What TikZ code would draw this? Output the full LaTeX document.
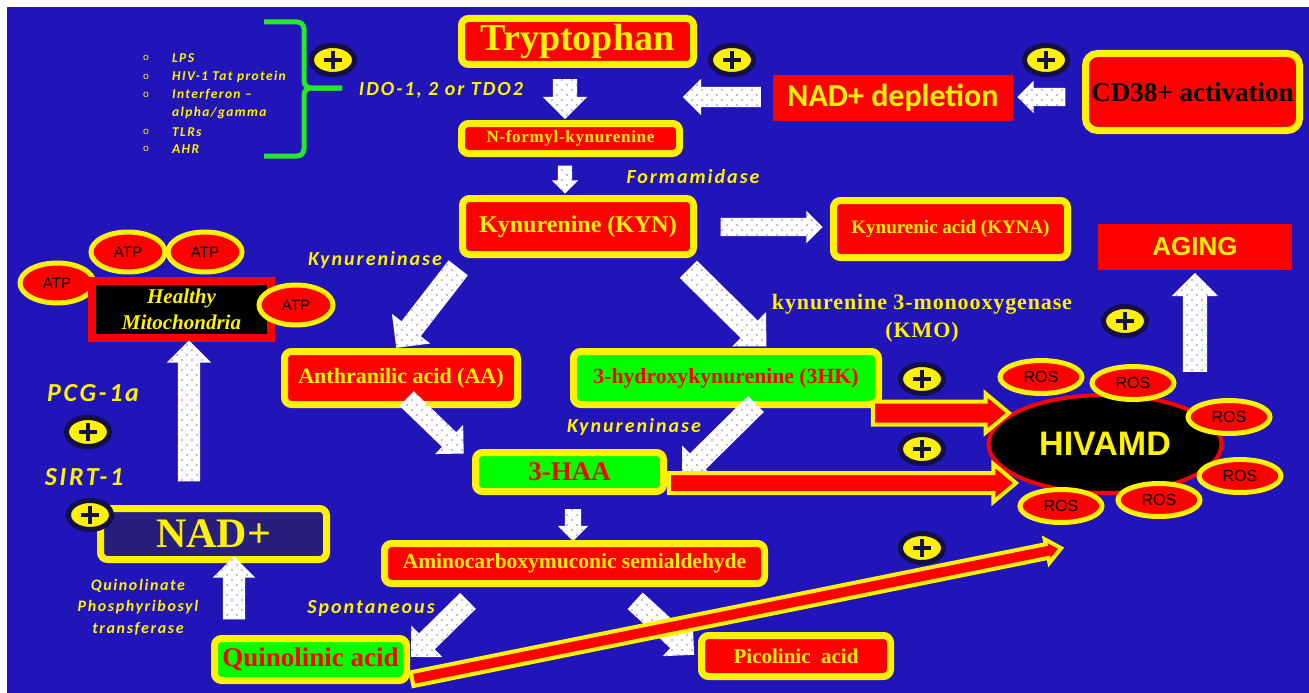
\documentclass[tikz,border=0pt]{standalone}
\usepackage{fontspec}
\setmainfont{Liberation Serif}
\newfontfamily\calib{Carlito}
\newfontfamily\calibsp[LetterSpace=10]{Carlito}
\newfontfamily\serifsp[LetterSpace=4]{Liberation Serif}
\newfontfamily\arialf{Liberation Sans}
\usetikzlibrary{shapes.geometric,shapes.arrows,calc,patterns.meta}

\definecolor{bgblue}{RGB}{33,20,185}
\definecolor{plusring}{RGB}{20,16,70}
\definecolor{nadblue}{RGB}{40,30,125}
\definecolor{brgreen}{RGB}{0,255,0}
\definecolor{bracegreen}{RGB}{40,230,40}
\definecolor{dotblue}{RGB}{110,130,215}

\tikzdeclarepattern{
  name=sparsedots,
  type=uncolored,
  bottom left={(-1pt,-1pt)},
  top right={(9pt,9pt)},
  tile size={(10pt,10pt)},
  code={
    \fill (2pt,3pt) circle (0.9pt);
    \fill (7pt,8pt) circle (0.9pt);
  }
}

\tikzset{
  ybox/.style={draw=yellow, line width=7pt, fill=red, rounded corners=7pt,
    inner sep=0pt, text=yellow, font=\bfseries},
  gbox/.style={ybox, fill=brgreen, text=red},
  flatbox/.style={fill=red, inner sep=0pt, text=yellow},
  atp/.style={ellipse, fill=red, draw=yellow, line width=5pt, inner sep=0pt,
    minimum width=74pt, minimum height=40pt, font=\arialf\fontsize{15}{17}\selectfont},
  ros/.style={ellipse, fill=red, draw=yellow, line width=5pt, inner sep=0pt,
    minimum width=82pt, minimum height=33pt, font=\arialf\fontsize{16}{18}\selectfont},
  plusnode/.style={ellipse, fill=yellow, draw=plusring, line width=5pt, inner sep=0pt,
    minimum width=43pt, minimum height=29pt,
    path picture={
      \draw[line width=3.5pt] ([xshift=-9pt]path picture bounding box.center) -- ++(18pt,0pt);
      \draw[line width=3.5pt] ([yshift=-9pt]path picture bounding box.center) -- ++(0pt,18pt);
    }},
  enzyme/.style={text=yellow, font=\calibsp\bfseries\itshape\fontsize{20}{22}\selectfont},
  listitem/.style={anchor=west, text=yellow, inner sep=0pt,
    font=\calibsp\bfseries\itshape\fontsize{13.5}{14}\selectfont},
  bullet/.style={text=yellow, inner sep=0pt, font=\calib\fontsize{11}{12}\selectfont},
  whitearrow/.style 2 args={single arrow, inner xsep=0pt, inner ysep=#1,
    single arrow head extend=#2, preaction={fill=white},
    pattern=sparsedots, pattern color=dotblue},
  redarrow/.style 2 args={single arrow, inner xsep=0pt, inner ysep=#1,
    single arrow head extend=#2, single arrow tip angle=80,
    fill=red, draw=yellow, line width=4pt},
  greenbrace/.style={draw=bracegreen, line width=5pt, rounded corners=7pt},
}

% block arrow between two named points
\newcommand{\blockarrow}[3]{%
  \path let \p1=($(#3)-(#2)$), \n1={veclen(\x1,\y1)} in
    (#2) -- (#3) node[#1, midway, sloped, allow upside down, minimum height=\n1] {};}

\begin{document}
\begin{tikzpicture}[x=1pt, y=-1pt]
  \useasboundingbox (0,0) rectangle (1309,693);
  \fill[white] (0,0) rectangle (1309,693);
  \fill[bgblue] (7,7) rectangle (1309,693);

  % main pathway
  \node[ybox, minimum width=232, minimum height=46, font=\bfseries\fontsize{38}{40}\selectfont]
    (tryp) at (577.5,41.5) {Tryptophan};
  \node[ybox, minimum width=218, minimum height=30, font=\serifsp\bfseries\fontsize{17}{19}\selectfont]
    (nfk) at (570.5,138.5) {N-formyl-kynurenine};
  \node[ybox, minimum width=231, minimum height=56, font=\bfseries\fontsize{24}{26}\selectfont]
    (kyn) at (578,226.5) {Kynurenine (KYN)};
  \node[ybox, minimum width=234, minimum height=57, font=\bfseries\fontsize{19}{21}\selectfont]
    (kyna) at (950.5,229) {Kynurenic acid (KYNA)};
  \node[ybox, rounded corners=12pt, minimum width=214, minimum height=77, text=black,
    font=\bfseries\fontsize{27}{29}\selectfont]
    (cd38) at (1192.5,92) {CD38+ activation};
  \node[flatbox, minimum width=240, minimum height=46, font=\calib\bfseries\fontsize{32}{34}\selectfont]
    (depl) at (893,98) {NAD+ depletion};
  \node[flatbox, minimum width=194, minimum height=46, font=\arialf\bfseries\fontsize{26}{28}\selectfont]
    (aging) at (1195,247) {AGING};
  \node[ybox, minimum width=233, minimum height=53, font=\bfseries\fontsize{22}{24}\selectfont]
    (aa) at (401,378) {Anthranilic acid (AA)};
  \node[gbox, minimum width=305, minimum height=53, font=\bfseries\fontsize{21.7}{24}\selectfont]
    (hk) at (726,378) {3-hydroxykynurenine (3HK)};
  \node[gbox, minimum width=188, minimum height=39, font=\bfseries\fontsize{27}{29}\selectfont]
    (haa) at (569.5,472) {3-HAA};
  \node[ybox, minimum width=380, minimum height=40, font=\bfseries\fontsize{21.5}{23}\selectfont]
    (acms) at (574.5,563.5) {Aminocarboxymuconic semialdehyde};
  \node[gbox, minimum width=192, minimum height=42, font=\bfseries\fontsize{27}{29}\selectfont]
    (quin) at (310.5,659.5) {Quinolinic acid};
  \node[ybox, minimum width=189, minimum height=41, font=\bfseries\fontsize{21}{23}\selectfont]
    (pic) at (796,656) {Picolinic\ \ acid};
  \node[ybox, fill=nadblue, minimum width=226, minimum height=51, font=\bfseries\fontsize{42}{44}\selectfont]
    (nad) at (213.5,534) {NAD+};

  % mitochondria and ATP
  \node[atp] (atp1) at (57,283) {ATP};
  \node[atp] (atp2) at (128,252) {ATP};
  \node[atp] (atp3) at (205,252) {ATP};
  \node[fill=black, draw=red, line width=8pt, minimum width=179, minimum height=57, inner sep=0pt,
    align=center, text=yellow, font=\bfseries\itshape\fontsize{21}{26}\selectfont]
    (mito) at (181.5,309.5) {Healthy\\Mitochondria};
  \node[atp] (atp4) at (296,305) {ATP};

  % HIVAMD with ROS
  \node[ellipse, fill=black, draw=red, line width=4pt, minimum width=233, minimum height=98,
    text=yellow, font=\arialf\bfseries\fontsize{34}{36}\selectfont]
    (hivamd) at (1105,444) {HIVAMD};
  \node[ros] (ros1) at (1041,377) {ROS};
  \node[ros] (ros2) at (1133,383) {ROS};
  \node[ros] (ros3) at (1229,417) {ROS};
  \node[ros] (ros4) at (1240,476) {ROS};
  \node[ros] (ros5) at (1159,500) {ROS};
  \node[ros] (ros6) at (1061,506) {ROS};

  % plus marks
  \node[plusnode] (plus1) at (333,60) {};
  \node[plusnode] (plus2) at (732,60) {};
  \node[plusnode] (plus3) at (1046,60) {};
  \node[plusnode] (plus4) at (1125,321) {};
  \node[plusnode] (plus5) at (922,379) {};
  \node[plusnode] (plus6) at (922,449) {};
  \node[plusnode] (plus7) at (922,548) {};
  \node[plusnode] (plus8) at (88,432) {};
  \node[plusnode] (plus9) at (90,515) {};

  % activators
  \foreach \y in {58,77,95,132,149} {
    \node[bullet] at (146,\y) {o};
  }
  \node[listitem] (lps) at (172,58) {LPS};
  \node[listitem] (tat) at (172,77) {HIV-1 Tat protein};
  \node[listitem] (ifn) at (172,95) {Interferon \textendash};
  \node[listitem] (ifn2) at (172,113) {alpha/gamma};
  \node[listitem] (tlr) at (172,132) {TLRs};
  \node[listitem] (ahr) at (172,149) {AHR};
  \draw[greenbrace] (264,22) -| (304,88) -- (342,88);
  \draw[greenbrace] (342,88) -- (304,88) |- (264,156);

  % enzyme labels
  \node[enzyme] (ido) at (441,90) {IDO-1, 2 or TDO2};
  \node[enzyme] (forma) at (693,177) {Formamidase};
  \node[enzyme] (kynase1) at (375,260) {Kynureninase};
  \node[enzyme] (kynase2) at (634,427) {Kynureninase};
  \node[enzyme] (spont) at (371,609) {Spontaneous};
  \node[text=yellow, align=center, font=\serifsp\bfseries\fontsize{22}{28}\selectfont]
    (kmo) at (922,318) {kynurenine 3-monooxygenase\\(KMO)};
  \node[enzyme, align=center, font=\calibsp\bfseries\itshape\fontsize{16}{21.5}\selectfont]
    (qprt) at (138,607) {Quinolinate\\Phosphyribosyl\\transferase};
  \node[enzyme, font=\calibsp\bfseries\itshape\fontsize{26}{28}\selectfont] (pgc) at (93,393) {PCG-1a};
  \node[enzyme, font=\calibsp\bfseries\itshape\fontsize{26}{28}\selectfont] (sirt) at (84,477) {SIRT-1};

  % arrow end points
  \coordinate (a1s) at (565,73);   \coordinate (a1e) at (565,113);
  \coordinate (a2s) at (565,162);  \coordinate (a2e) at (565,190);
  \coordinate (a3s) at (766,97);   \coordinate (a3e) at (688,97);
  \coordinate (a4s) at (1070,97);  \coordinate (a4e) at (1022,97);
  \coordinate (a5s) at (716,227);  \coordinate (a5e) at (818,227);
  \coordinate (a6s) at (462,263);  \coordinate (a6e) at (400,343);
  \coordinate (a7s) at (684,265);  \coordinate (a7e) at (762,342);
  \coordinate (a8s) at (403,395);  \coordinate (a8e) at (460,450);
  \coordinate (a9s) at (760,400);  \coordinate (a9e) at (686,473);
  \coordinate (a10s) at (573,505); \coordinate (a10e) at (573,537);
  \coordinate (a11s) at (472,597); \coordinate (a11e) at (415,653);
  \coordinate (a12s) at (631,597); \coordinate (a12e) at (690,651);
  \coordinate (a13s) at (234,625); \coordinate (a13e) at (234,562);
  \coordinate (a14s) at (189,487); \coordinate (a14e) at (189,346);
  \coordinate (a15s) at (1195,378); \coordinate (a15e) at (1195,279);
  \coordinate (r1s) at (866,413);  \coordinate (r1e) at (1002,413);
  \coordinate (r2s) at (663,483);  \coordinate (r2e) at (1010,483);
  \coordinate (r3s) at (408,680);  \coordinate (r3e) at (1057,549);

  % white arrows
  \blockarrow{whitearrow={12pt}{10pt}}{a1s}{a1e}
  \blockarrow{whitearrow={7pt}{6pt}}{a2s}{a2e}
  \blockarrow{whitearrow={10pt}{8pt}}{a3s}{a3e}
  \blockarrow{whitearrow={9pt}{7pt}}{a4s}{a4e}
  \blockarrow{whitearrow={9pt}{7pt}}{a5s}{a5e}
  \blockarrow{whitearrow={12pt}{12pt}}{a6s}{a6e}
  \blockarrow{whitearrow={12pt}{12pt}}{a7s}{a7e}
  \blockarrow{whitearrow={10pt}{10pt}}{a8s}{a8e}
  \blockarrow{whitearrow={11pt}{11pt}}{a9s}{a9e}
  \blockarrow{whitearrow={8pt}{7pt}}{a10s}{a10e}
  \blockarrow{whitearrow={11pt}{11pt}}{a11s}{a11e}
  \blockarrow{whitearrow={11pt}{11pt}}{a12s}{a12e}
  \blockarrow{whitearrow={11pt}{10pt}}{a13s}{a13e}
  \blockarrow{whitearrow={11pt}{11pt}}{a14s}{a14e}
  \blockarrow{whitearrow={12pt}{11pt}}{a15s}{a15e}

  % red arrows
  \blockarrow{redarrow={9.5pt}{8pt}}{r1s}{r1e}
  \blockarrow{redarrow={8pt}{9pt}}{r2s}{r2e}
  \blockarrow{redarrow={5pt}{5pt}}{r3s}{r3e}
\end{tikzpicture}
\end{document}
